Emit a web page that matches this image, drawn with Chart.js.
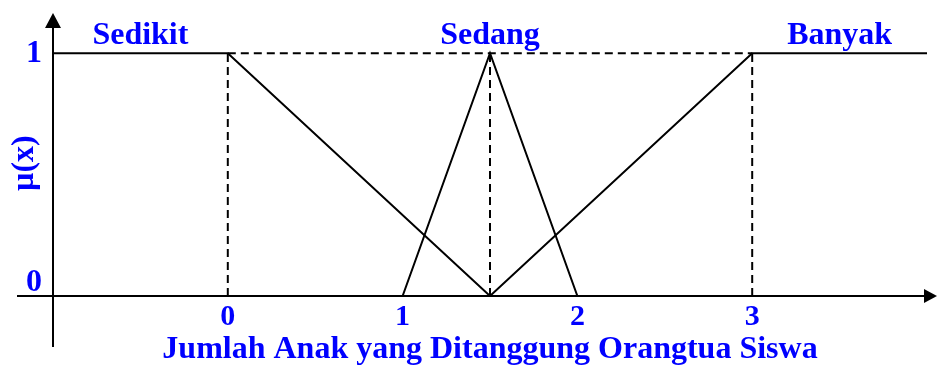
<!DOCTYPE html>
<html>
<head>
<meta charset="utf-8">
<script src="https://cdn.jsdelivr.net/npm/chart.js@4"></script>
<style>
  html, body { margin: 0; padding: 0; background: #fff; }
  #wrap { width: 937px; height: 367px; }
</style>
</head>
<body>
<div id="wrap"><canvas id="grafico" width="937" height="367"></canvas></div>
<script>
const xTicks = [0, 1, 2, 3];
const yTicks = [0, 1];
const setNames = ['Sedikit', 'Sedang', 'Banyak'];
const setNameX = [-0.5, 1.5, 3.5];

// fungsi keanggotaan
const sedikitX = [-1, 0, 1.5];
const sedikitY = [1, 1, 0];
const sedangX = [1, 1.5, 2];
const sedangY = [0, 1, 0];
const banyakX = [1.5, 3, 4];
const banyakY = [0, 1, 1];

// garis bantu putus-putus
const guideTopX = [0, 3];
const guideTopY = [1, 1];
const guideVert = [0, 1.5, 3];

const blue = '#0000ff';
const fontFam = '"Liberation Serif", "Times New Roman", serif';

function pts(xs, ys) {
  return xs.map((x, i) => ({ x: x, y: ys[i] }));
}

function solid(xs, ys) {
  return { data: pts(xs, ys), showLine: true, borderColor: '#000', borderWidth: 2, pointRadius: 0, fill: false };
}

function dashed(xs, ys) {
  return { data: pts(xs, ys), showLine: true, borderColor: '#000', borderWidth: 2, borderDash: [8, 5], pointRadius: 0, fill: false };
}

const datasets = [
  dashed(guideTopX, guideTopY),
  ...guideVert.map(v => dashed([v, v], [0, 1])),
  solid(sedikitX, sedikitY),
  solid(sedangX, sedangY),
  solid(banyakX, banyakY)
];

// sumbu dengan panah + nama himpunan
const sumbu = {
  id: 'sumbu',
  afterDatasetsDraw(chart) {
    const c = chart.ctx;
    const a = chart.chartArea;
    const xs = chart.scales.x, ys = chart.scales.y;
    const y0 = ys.getPixelForValue(0);
    const xl = xs.getPixelForValue(-1);
    c.save();
    c.strokeStyle = '#000';
    c.fillStyle = '#000';
    c.lineWidth = 2;
    c.beginPath();
    c.moveTo(17, y0);
    c.lineTo(a.right + 2, y0);
    c.moveTo(xl, 24);
    c.lineTo(xl, 347);
    c.stroke();
    // panah kanan
    c.beginPath();
    c.moveTo(937, y0);
    c.lineTo(924, y0 - 7);
    c.lineTo(924, y0 + 7);
    c.closePath();
    c.fill();
    // panah atas
    c.beginPath();
    c.moveTo(xl, 13);
    c.lineTo(xl - 8, 28);
    c.lineTo(xl + 8, 28);
    c.closePath();
    c.fill();

    c.fillStyle = blue;
    c.font = 'bold 32px ' + fontFam;
    c.textAlign = 'center';
    c.textBaseline = 'alphabetic';
    const y1 = ys.getPixelForValue(1);
    setNames.forEach((n, i) => {
      c.fillText(n, xs.getPixelForValue(setNameX[i]), y1 - 9);
    });
    c.restore();
  }
};

new Chart(document.getElementById('grafico'), {
  type: 'scatter',
  data: { datasets: datasets },
  options: {
    responsive: false,
    animation: false,
    layout: { padding: { top: 0, right: 10, left: 0, bottom: 0 } },
    plugins: { legend: { display: false }, tooltip: { enabled: false } },
    scales: {
      x: {
        type: 'linear',
        min: -1,
        max: 4,
        afterBuildTicks: axis => { axis.ticks = xTicks.map(v => ({ value: v })); },
        afterFit: axis => { axis.height = 71; },
        grid: { display: false, drawTicks: false },
        border: { display: false },
        ticks: { color: blue, padding: 3, font: { family: fontFam, size: 30, weight: 'bold' } },
        title: {
          display: true,
          text: 'Jumlah Anak yang Ditanggung Orangtua Siswa',
          color: blue,
          padding: { top: 0, bottom: 0 },
          font: { family: fontFam, size: 32, weight: 'bold', lineHeight: 1.1 }
        }
      },
      y: {
        type: 'linear',
        min: 0,
        max: 1.095,
        // label "0" sedikit diangkat di atas garis sumbu x
        afterBuildTicks: axis => { axis.ticks = yTicks.map(v => ({ value: v === 0 ? 0.053 : v })); },
        afterFit: axis => { axis.width = 53; },
        grid: { display: false, drawTicks: false },
        border: { display: false },
        ticks: {
          color: blue,
          padding: 11,
          callback: (v, i) => String(yTicks[i]),
          font: { family: fontFam, size: 32, weight: 'bold' }
        },
        title: {
          display: true,
          text: 'µ(x)',
          color: blue,
          padding: { top: 6, bottom: 0 },
          font: { family: fontFam, size: 32, weight: 'bold' }
        }
      }
    }
  },
  plugins: [sumbu]
});
</script>
</body>
</html>
